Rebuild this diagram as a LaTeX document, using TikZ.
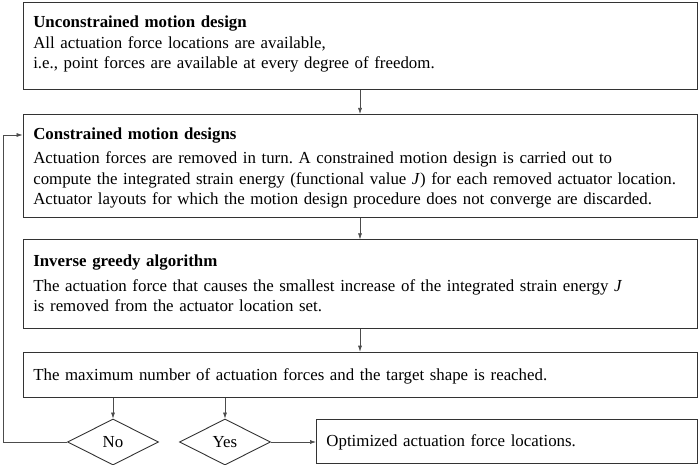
\documentclass[tikz,border=0pt]{standalone}
\usepackage{fontspec}
\setmainfont{Liberation Serif}
\usetikzlibrary{shapes.geometric,arrows.meta}
\frenchspacing

\tikzset{
  stepbox/.style={draw=black!80, line width=0.9pt, inner xsep=10.3pt, inner ysep=0pt,
    text width=653.4pt, align=left, anchor=north, font=\fontsize{16.85}{20.3}\selectfont},
  decision/.style={draw=black!80, line width=0.9pt, diamond, aspect=2, inner sep=0pt,
    minimum width=91pt, minimum height=46pt, font=\fontsize{16.85}{20.3}\selectfont},
  flow/.style={->, draw=black!70, line width=0.6pt}
}

\begin{document}
\begin{tikzpicture}[x=1pt, y=-1pt, >={Latex[length=6pt,width=4pt]}]
\useasboundingbox (0,0) rectangle (699,465);

% Boxes (struts fix top and bottom padding)
\node[stepbox] (uncon) at (360,2)
  {\rule{0pt}{25pt}\textbf{Unconstrained motion design}\\[0.7pt]
   All actuation force locations are available,\\
   i.e., point forces are available at every degree of freedom.\rule[-21pt]{0pt}{21pt}};
\node[stepbox] (constr) at (360,114)
  {\rule{0pt}{25.3pt}\textbf{Constrained motion designs}\\[3.7pt]
   Actuation forces are removed in turn. A constrained motion design is carried out to\\
   compute the integrated strain energy (functional value \textit{J}) for each removed actuator location.\\
   Actuator layouts for which the motion design procedure does not converge are discarded.\rule[-13.3pt]{0pt}{13.3pt}};
\node[stepbox] (greedy) at (360,239.3)
  {\rule{0pt}{26.7pt}\textbf{Inverse greedy algorithm}\\[4.7pt]
   The actuation force that causes the smallest increase of the integrated strain energy \textit{J}\\
   is removed from the actuator location set.\rule[-16.7pt]{0pt}{16.7pt}};
\node[stepbox] (check) at (360,351.7)
  {\rule{0pt}{28.3pt}The maximum number of actuation forces and the target shape is reached.\rule[-16.7pt]{0pt}{16.7pt}};

% Decisions
\node[decision] (no) at (113,442) {No};
\node[decision] (yes) at (225,442) {Yes};

% Result
\node[stepbox, text width=361pt, inner xsep=10pt, anchor=north west] (result) at (316,419.3)
  {\rule{0pt}{26.7pt}Optimized actuation force locations.\rule[-16.7pt]{0pt}{16.7pt}};

% Arrows
\draw[flow] (uncon) -- (constr);
\draw[flow] (constr) -- (greedy);
\draw[flow] (greedy) -- (check);
\draw[flow] (check.south -| no.north) -- (no.north);
\draw[flow] (check.south -| yes.north) -- (yes.north);
\draw[flow] (yes.east) -- (result.west |- yes.east);
\draw[flow] (no.west) -- ++(-64,0) |- ([yshift=-21pt]constr.north west);

\end{tikzpicture}
\end{document}
